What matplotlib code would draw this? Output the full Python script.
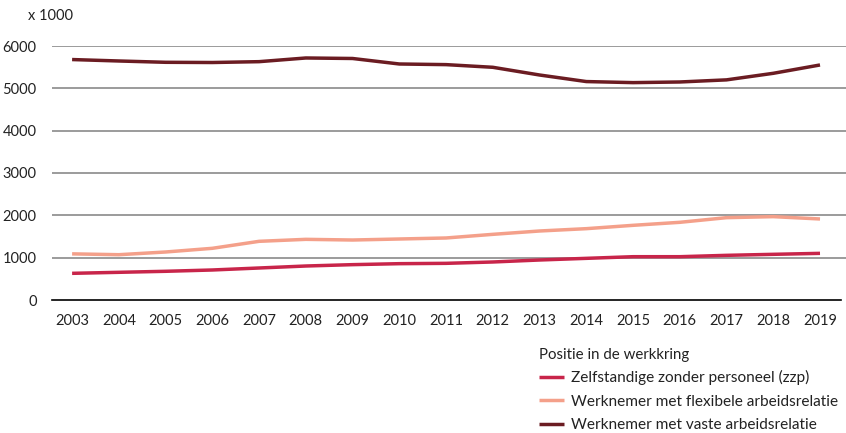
import matplotlib.pyplot as plt

plt.rcParams['font.family'] = ['Lato', 'DejaVu Sans']

jaren = list(range(2003, 2020))

# x 1000 personen
zzp = [630, 654, 678, 709, 756, 803, 835, 858, 866, 898, 945, 984, 1023, 1023, 1055, 1079, 1102]
flexibel = [1090, 1070, 1134, 1221, 1386, 1433, 1417, 1441, 1465, 1551, 1630, 1685, 1764, 1835, 1945, 1969, 1914]
vaste = [5680, 5646, 5615, 5610, 5630, 5717, 5705, 5575, 5560, 5497, 5315, 5160, 5135, 5150, 5200, 5355, 5552]

labels = ["Zelfstandige zonder personeel (zzp)",
          "Werknemer met flexibele arbeidsrelatie",
          "Werknemer met vaste arbeidsrelatie"]
kleuren = ["#c8254a", "#f4a08a", "#6b1c22"]

fig = plt.figure(figsize=(8.46, 4.33), dpi=100)
ax = fig.add_axes([52 / 846, 133 / 433, 794 / 846, 254 / 433])

# rasterlijnen
for y in range(1000, 7000, 1000):
    ax.axhline(y, color="#8a8a8a", lw=1.2, zorder=1)
ax.plot([2002.57, 2019.45], [0, 0], color="black", lw=1.2, zorder=1, clip_on=False)

for reeks, kleur, label in zip([zzp, flexibel, vaste], kleuren, labels):
    ax.plot(jaren, reeks, color=kleur, lw=2.5, label=label, zorder=3,
            solid_joinstyle="round", solid_capstyle="butt", clip_on=False)

ax.set_xlim(2002.57, 2019.556)
ax.set_ylim(0, 6000)
ax.set_xticks(jaren)
ax.set_yticks(range(0, 7000, 1000))
ax.tick_params(length=0, labelsize=10.5, colors="#222222")
ax.tick_params(axis="y", pad=11)
ax.tick_params(axis="x", pad=10)
for s in ax.spines.values():
    s.set_visible(False)

fig.text(28 / 846, 1 - 16 / 433, "x 1000", fontsize=10.5, color="#222222", va="center")

leg = fig.legend(loc="upper left", bbox_to_anchor=(539 / 846, 1 - 348 / 433),
                 title="Positie in de werkkring", frameon=False, fontsize=11.1,
                 title_fontsize=10.8, handlelength=1.6, handletextpad=0.5,
                 labelspacing=0.6, borderaxespad=0, borderpad=0)
leg._legend_box.align = "left"
leg._legend_box.sep = 6
for t in leg.get_texts():
    t.set_color("#222222")
leg.get_title().set_color("#222222")

fig.savefig("out.png", dpi=100)
